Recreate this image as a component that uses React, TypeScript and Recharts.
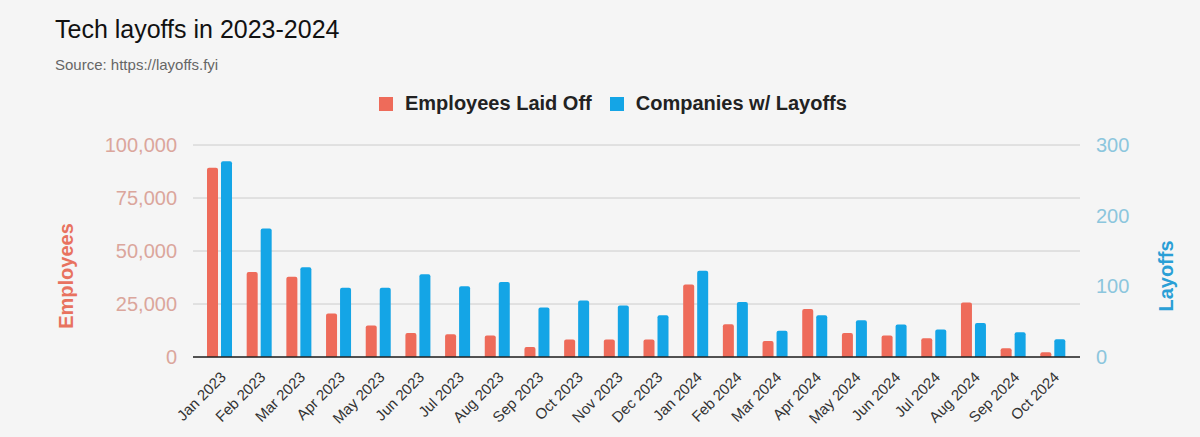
import React from 'react';
import { BarChart, Bar, XAxis, YAxis, CartesianGrid } from 'recharts';

const months = [
  'Jan 2023', 'Feb 2023', 'Mar 2023', 'Apr 2023', 'May 2023', 'Jun 2023',
  'Jul 2023', 'Aug 2023', 'Sep 2023', 'Oct 2023', 'Nov 2023', 'Dec 2023',
  'Jan 2024', 'Feb 2024', 'Mar 2024', 'Apr 2024', 'May 2024', 'Jun 2024',
  'Jul 2024', 'Aug 2024', 'Sep 2024', 'Oct 2024',
];

const employeesLaidOff = [
  89300, 40100, 37800, 20500, 14800, 11300, 10700, 10100, 4700, 8200, 8200,
  8200, 34200, 15400, 7500, 22700, 11300, 10100, 8800, 25700, 4100, 2200,
];

const companiesWithLayoffs = [
  277, 182, 127, 98, 98, 117, 100, 106, 70, 80, 73, 59, 122, 78, 37, 59, 52,
  46, 39, 48, 35, 25,
];

const employeeTicks = [0, 25000, 50000, 75000, 100000];
const layoffTicks = [0, 100, 200, 300];

const RED = '#EE6B5A';
const BLUE = '#14A5E6';
const FONT = '"Liberation Sans", Arial, sans-serif';

const data = months.map((month, i) => ({
  month,
  employees: employeesLaidOff[i],
  companies: companiesWithLayoffs[i],
}));

const MonthTick = (props: any) => {
  const { x, y, payload } = props;
  const ax = x + 7;
  const ay = y + 13;
  return (
    <text
      x={ax}
      y={ay}
      textAnchor="end"
      fontSize={15}
      fill="#333"
      fontFamily={FONT}
      transform={`rotate(-45, ${ax}, ${ay})`}
    >
      {payload.value}
    </text>
  );
};

const App = () => {
  return (
    <div
      style={{
        position: 'absolute',
        left: 0,
        top: 0,
        width: 1200,
        height: 437,
        background: '#F5F5F5',
        overflow: 'hidden',
        fontFamily: FONT,
      }}
    >
      <div style={{ position: 'absolute', left: 55, top: 15, fontSize: 25, color: '#111' }}>
        Tech layoffs in 2023-2024
      </div>
      <div style={{ position: 'absolute', left: 55, top: 56, fontSize: 15, color: '#666' }}>
        Source: https://layoffs.fyi
      </div>
      {/* legend */}
      <div
        style={{
          position: 'absolute',
          top: 92,
          left: 379,
          display: 'flex',
          alignItems: 'center',
          fontWeight: 'bold',
          fontSize: 20,
          color: '#222',
        }}
      >
        <span style={{ width: 14, height: 14, background: RED, marginRight: 12, display: 'inline-block' }} />
        <span style={{ marginRight: 18 }}>Employees Laid Off</span>
        <span style={{ width: 14, height: 14, background: BLUE, marginRight: 12, display: 'inline-block' }} />
        <span>Companies w/ Layoffs</span>
      </div>
      <div style={{ position: 'absolute', left: 0, top: 0 }}>
        <BarChart
          width={1200}
          height={437}
          data={data}
          margin={{ top: 145, right: 0, bottom: 0, left: 0 }}
          barGap={3}
          barSize={11}
        >
          <CartesianGrid yAxisId="left" vertical={false} stroke="#CCCCCC" />
          <XAxis
            dataKey="month"
            interval={0}
            padding={{ left: 7, right: 7 }}
            tickLine={false}
            axisLine={{ stroke: '#222', strokeWidth: 1.5 }}
            tick={<MonthTick />}
            height={80}
          />
          <YAxis
            yAxisId="left"
            width={193}
            domain={[0, 100000]}
            ticks={employeeTicks}
            interval={0}
            axisLine={false}
            tickLine={false}
            tickMargin={10}
            tick={{ fill: '#DBA69C', fontSize: 20, fontFamily: FONT }}
            tickFormatter={(v: number) => v.toLocaleString('en-US')}
            label={(p: any) => {
              const vb = p.viewBox;
              const cx = 66;
              const cy = vb.y + vb.height / 2 + 25;
              return (
                <text
                  x={cx}
                  y={cy}
                  textAnchor="middle"
                  dominantBaseline="central"
                  transform={`rotate(-90, ${cx}, ${cy})`}
                  fill="#E8725F"
                  fontSize={20}
                  fontWeight="bold"
                  fontFamily={FONT}
                >
                  Employees
                </text>
              );
            }}
          />
          <YAxis
            yAxisId="right"
            orientation="right"
            width={120}
            domain={[0, 300]}
            ticks={layoffTicks}
            interval={0}
            axisLine={false}
            tickLine={false}
            tickMargin={10}
            tick={{ fill: '#8CC6DD', fontSize: 20, fontFamily: FONT, textAnchor: 'start' }}
            label={(p: any) => {
              const vb = p.viewBox;
              const cx = 1166;
              const cy = vb.y + vb.height / 2 + 25;
              return (
                <text
                  x={cx}
                  y={cy}
                  textAnchor="middle"
                  dominantBaseline="central"
                  transform={`rotate(-90, ${cx}, ${cy})`}
                  fill="#2A9FD6"
                  fontSize={20}
                  fontWeight="bold"
                  fontFamily={FONT}
                >
                  Layoffs
                </text>
              );
            }}
          />
          <Bar
            yAxisId="left"
            dataKey="employees"
            name="Employees Laid Off"
            fill={RED}
            radius={[2, 2, 0, 0]}
            isAnimationActive={false}
          />
          <Bar
            yAxisId="right"
            dataKey="companies"
            name="Companies w/ Layoffs"
            fill={BLUE}
            radius={[2, 2, 0, 0]}
            isAnimationActive={false}
          />
        </BarChart>
      </div>
    </div>
  );
};

export default App;
